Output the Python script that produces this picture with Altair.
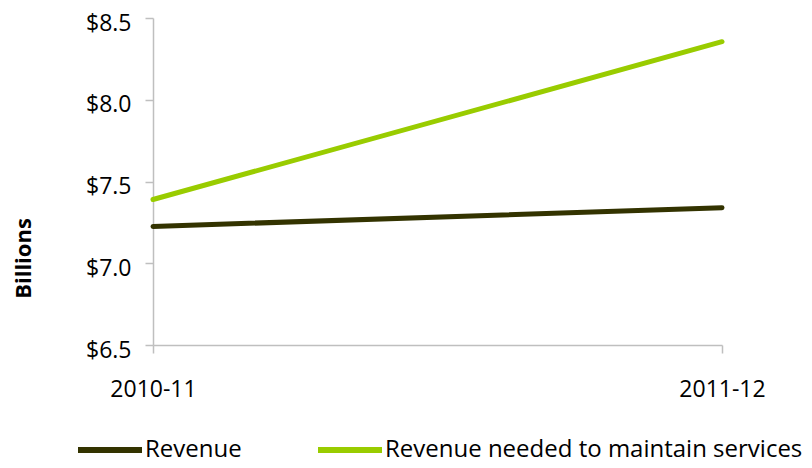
import altair as alt
import pandas as pd

years = ["2010-11", "2011-12"]
revenue = [7.225, 7.34]
needed = [7.39, 8.355]
series = ["Revenue", "Revenue needed to maintain services"]
colors = ["#333300", "#99cc00"]

rows = []
for name, vals in zip(series, [revenue, needed]):
    for y, v in zip(years, vals):
        rows.append({"year": y, "value": v, "series": name})
df = pd.DataFrame(rows)

FONT = "Open Sans"

chart = alt.Chart(df).mark_line(strokeWidth=5, strokeCap="round").encode(
    x=alt.X("year:O", scale=alt.Scale(type="point", padding=0),
            axis=alt.Axis(title=None, labelAngle=0, labelFontSize=23, labelFont=FONT,
                          labelColor="#000000", tickSize=8, labelPadding=25,
                          domainColor="#bfbfbf", tickColor="#bfbfbf", domainWidth=1.5, tickWidth=1.5)),
    y=alt.Y("value:Q", scale=alt.Scale(domain=[6.5, 8.5], nice=False, zero=False),
            axis=alt.Axis(title="Billions", values=[6.5, 7.0, 7.5, 8.0, 8.5], format="$.1f",
                          labelFontSize=23, labelFont=FONT, labelColor="#000000",
                          tickSize=8, labelPadding=14, labelOffset=5, grid=False,
                          domainColor="#bfbfbf", tickColor="#bfbfbf", domainWidth=1.5, tickWidth=1.5,
                          titleFont=FONT, titleFontSize=22, titleFontWeight="bold",
                          titleX=-130, titleY=240, titleAngle=270, titleAlign="center",
                          titleBaseline="middle", titleColor="#000000")),
    color=alt.Color("series:N", scale=alt.Scale(domain=series, range=colors),
                    legend=alt.Legend(title=None, orient="none", direction="horizontal",
                                      legendX=-78, legendY=397, symbolType="stroke",
                                      symbolSize=4096, symbolStrokeWidth=6,
                                      labelFont=FONT, labelFontSize=24, labelColor="#000000",
                                      labelOffset=0, columnPadding=64, labelLimit=500)),
).properties(
    width=569, height=327,
    padding={"left": 145, "top": 10, "right": 82, "bottom": 115},
    autosize=alt.AutoSizeParams(type="none"),
).configure_view(stroke=None)

chart.save("out.html", embed_options={"renderer": "svg", "actions": False})
